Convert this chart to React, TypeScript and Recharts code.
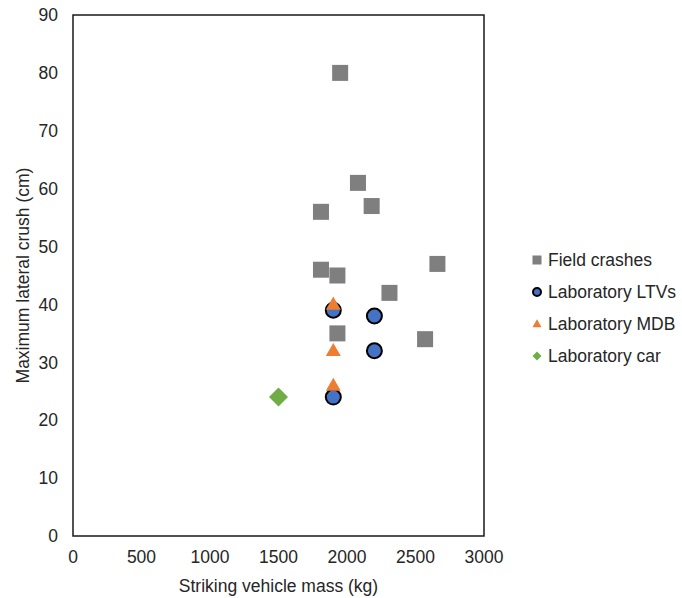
import { ScatterChart, Scatter, XAxis, YAxis, Legend, ReferenceArea } from 'recharts';

const fieldMass = [1950, 2080, 1810, 2180, 1810, 1930, 2660, 2310, 1930, 2570];
const fieldCrush = [80, 61, 56, 57, 46, 45, 47, 42, 35, 34];
const ltvMass = [1900, 2200, 2200, 1900];
const ltvCrush = [39, 38, 32, 24];
const mdbMass = [1900, 1900, 1900];
const mdbCrush = [40, 32, 26];
const carMass = [1500];
const carCrush = [24];
const xTicks = [0, 500, 1000, 1500, 2000, 2500, 3000];
const yTicks = [0, 10, 20, 30, 40, 50, 60, 70, 80, 90];

const FONT = '"Liberation Sans", Arial, sans-serif';
const TEXT = '#262626';
const FS = 17.5;

const toPoints = (xs: number[], ys: number[]) => xs.map((x, i) => ({ x, y: ys[i] }));

type Kind = 'square' | 'circle' | 'triangle' | 'diamond';

function Marker({ kind, cx, cy, s, fill }: { kind: Kind; cx: number; cy: number; s: number; fill: string }) {
  if (kind === 'square') return <rect x={cx - s / 2} y={cy - s / 2} width={s} height={s} fill={fill} />;
  if (kind === 'circle') return <circle cx={cx} cy={cy} r={s / 2 - 1} fill={fill} stroke="#000" strokeWidth={2} />;
  if (kind === 'triangle') {
    const h = s * 0.87;
    return <polygon points={`${cx},${cy - h * 0.6} ${cx - s / 2},${cy + h * 0.4} ${cx + s / 2},${cy + h * 0.4}`} fill={fill} />;
  }
  const r = s / 2;
  return <polygon points={`${cx},${cy - r} ${cx + r},${cy} ${cx},${cy + r} ${cx - r},${cy}`} fill={fill} />;
}

const series = [
  { name: 'Field crashes', data: toPoints(fieldMass, fieldCrush), fill: '#7f7f7f', kind: 'square' as Kind, size: 16, legendSize: 9 },
  { name: 'Laboratory LTVs', data: toPoints(ltvMass, ltvCrush), fill: '#4472c4', kind: 'circle' as Kind, size: 17, legendSize: 10 },
  { name: 'Laboratory MDB', data: toPoints(mdbMass, mdbCrush), fill: '#ed7d31', kind: 'triangle' as Kind, size: 15, legendSize: 9 },
  { name: 'Laboratory car', data: toPoints(carMass, carCrush), fill: '#70ad47', kind: 'diamond' as Kind, size: 19, legendSize: 9 },
];

function YTitle({ viewBox }: any) {
  const cx = (viewBox?.x ?? 0) + 23;
  const cy = (viewBox?.y ?? 0) + (viewBox?.height ?? 0) / 2;
  return (
    <text x={cx} y={cy} transform={`rotate(-90 ${cx} ${cy})`} textAnchor="middle" dominantBaseline="central"
      fill={TEXT} fontSize={FS} fontFamily={FONT}>
      Maximum lateral crush (cm)
    </text>
  );
}

function LegendBox() {
  return (
    <div style={{ fontFamily: FONT, fontSize: 17.5, color: TEXT }}>
      {series.map((s) => (
        <div key={s.name} style={{ height: 32, display: 'flex', alignItems: 'center', whiteSpace: 'nowrap' }}>
          <svg width={12} height={12} style={{ marginRight: 5, flexShrink: 0 }}>
            <Marker kind={s.kind} cx={6} cy={6} s={s.legendSize} fill={s.fill} />
          </svg>
          {s.name}
        </div>
      ))}
    </div>
  );
}

export default function App() {
  return (
    <div style={{ position: 'absolute', left: 0, top: 0, width: 682, height: 598 }}>
      <ScatterChart width={682} height={598} margin={{ top: 15, right: 198, bottom: 0, left: 0 }}>
        <XAxis type="number" dataKey="x" domain={[0, 3000]} ticks={xTicks} axisLine={false} tickLine={false}
          tickSize={0} tickMargin={15} height={62} interval={0}
          tick={{ fill: TEXT, fontSize: FS, fontFamily: FONT }}
          label={{ value: 'Striking vehicle mass (kg)', position: 'insideBottom', offset: 6, fill: TEXT, fontSize: FS, fontFamily: FONT }} />
        <YAxis type="number" dataKey="y" domain={[0, 90]} ticks={yTicks} axisLine={false} tickLine={false}
          tickSize={0} tickMargin={15} width={73} interval={0}
          tick={{ fill: TEXT, fontSize: FS, fontFamily: FONT }}
          label={<YTitle />} />
        <ReferenceArea x1={0} x2={3000} y1={0} y2={90} fill="none" stroke="#1a1a1a" strokeWidth={1.5} />
        <Legend layout="vertical" align="center" verticalAlign="middle" content={<LegendBox />}
          wrapperStyle={{ left: 531, top: 244, width: 148 }} />
        {series.map((s) => (
          <Scatter key={s.name} name={s.name} data={s.data} fill={s.fill} isAnimationActive={false}
            shape={(p: any) => <Marker kind={s.kind} cx={p.cx} cy={p.cy} s={s.size} fill={s.fill} />} />
        ))}
      </ScatterChart>
    </div>
  );
}
